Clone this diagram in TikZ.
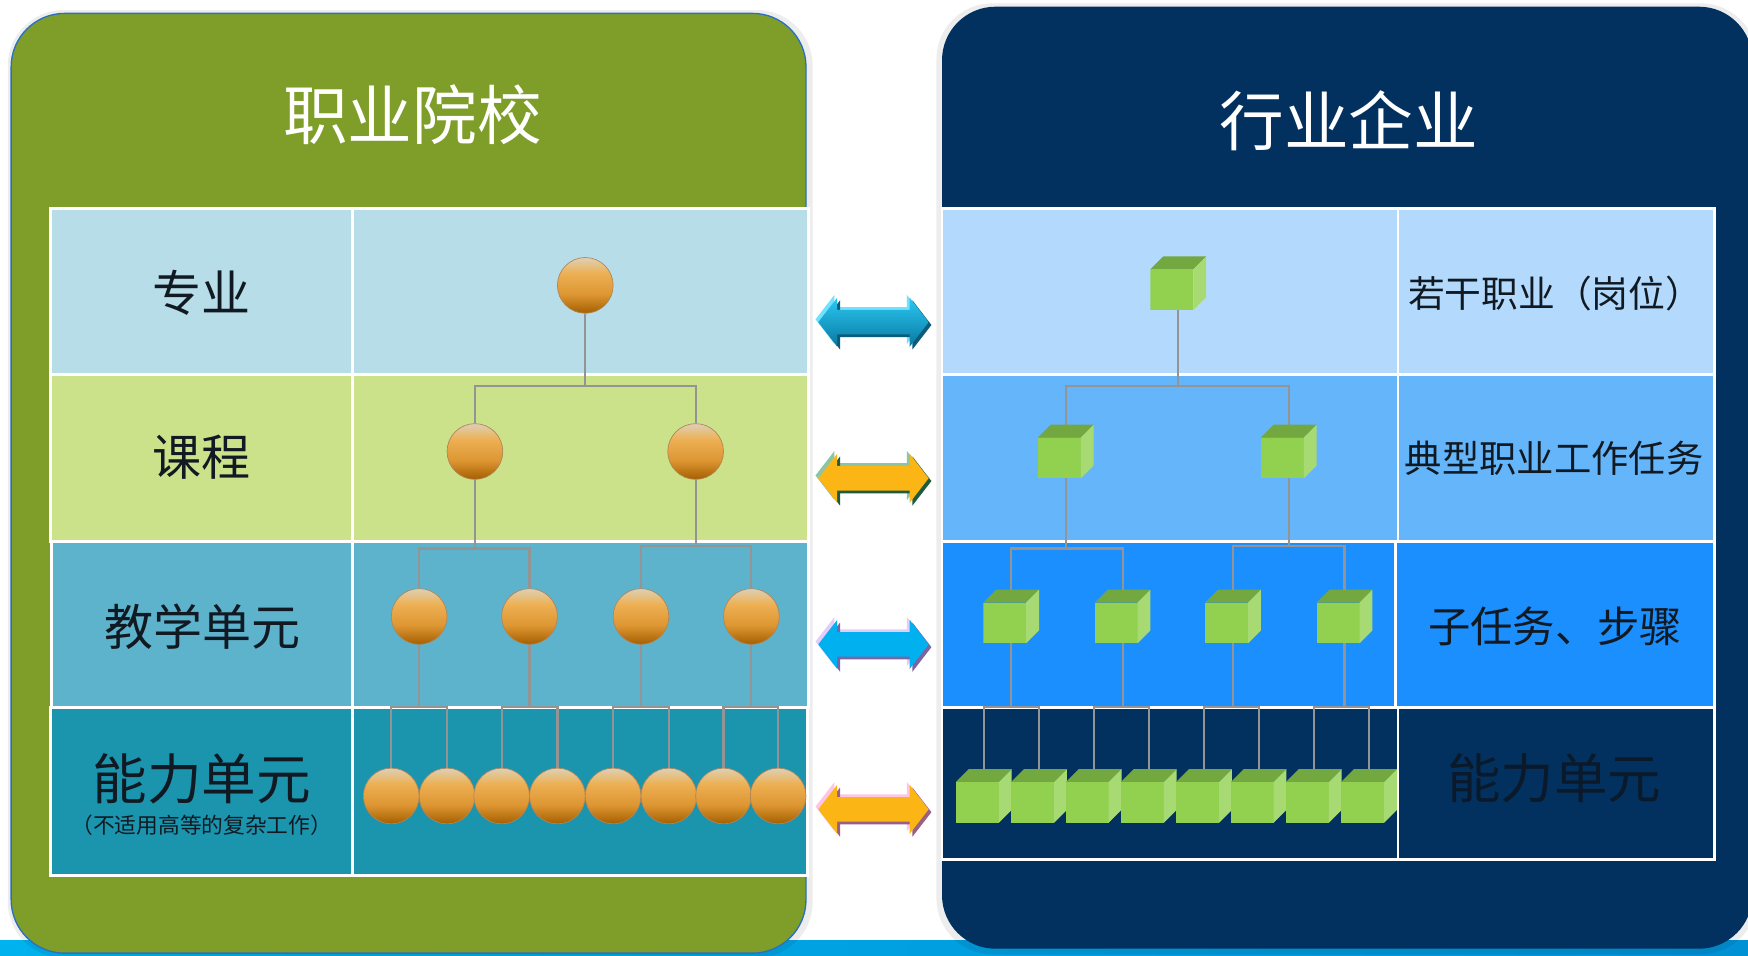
\documentclass[tikz,border=0pt]{standalone}
\usepackage{fontspec}
\newfontfamily\cjk{Noto Sans CJK SC}
\usetikzlibrary{calc}

% panels and table rows
\definecolor{panelgreen}{HTML}{7F9E29}
\definecolor{paneledge}{HTML}{2A6FC0}
\definecolor{panelnavy}{HTML}{03315F}
\definecolor{stripL}{HTML}{00B2EE}
\definecolor{stripR}{HTML}{0090D4}
\definecolor{lrowA}{HTML}{B7DEE8}
\definecolor{lrowB}{HTML}{CCE28A}
\definecolor{lrowC}{HTML}{5EB3CC}
\definecolor{lrowD}{HTML}{1B94AE}
\definecolor{rrowA}{HTML}{B3DAFC}
\definecolor{rrowB}{HTML}{65B5FA}
\definecolor{rrowC}{HTML}{1B8FFE}
\definecolor{rrowD}{HTML}{03315F}
% text
\definecolor{ink}{HTML}{111A22}
\definecolor{inkdim}{HTML}{0A1A2B}
% tree elements
\definecolor{wiregray}{HTML}{949494}
\definecolor{orbTop}{HTML}{DDD0B6}
\definecolor{orbLight}{HTML}{EDB054}
\definecolor{orbMid}{HTML}{DD9632}
\definecolor{orbBot}{HTML}{A65F00}
\definecolor{orbEdge}{HTML}{B08458}
\definecolor{cubeFront}{HTML}{92D050}
\definecolor{cubeTop}{HTML}{73A73F}
\definecolor{cubeSide}{HTML}{A8DA74}
% two-way arrows
\definecolor{arrAtop}{HTML}{2BC8F2}
\definecolor{arrAbot}{HTML}{0878A0}
\definecolor{arrAhi}{HTML}{70E2FF}
\definecolor{arrAsh}{HTML}{0B5C7C}
\definecolor{arrOrange}{HTML}{FBB514}
\definecolor{arrBhi}{HTML}{8CC5A6}
\definecolor{arrBsh}{HTML}{1F5C3D}
\definecolor{arrCfill}{HTML}{00B0EF}
\definecolor{arrChi}{HTML}{E3CCFA}
\definecolor{arrCsh}{HTML}{7B64A2}
\definecolor{arrDhi}{HTML}{FFC5E5}
\definecolor{arrDsh}{HTML}{9B5F82}

\pgfdeclareverticalshading{orbshade}{100bp}{color(0bp)=(orbBot); color(25bp)=(orbBot); color(42bp)=(orbMid); color(61bp)=(orbLight); color(75bp)=(orbTop); color(100bp)=(orbTop)}

\pgfdeclarelayer{ground}
\pgfdeclarelayer{wire}
\pgfsetlayers{ground,wire,main}

% one double-headed arrow body, shifted by (#2,#3)
\newcommand\arrowbody[3]{\path[#1,shift={(#2,#3)}] (-49.5,0) -- (-32.5,-22) -- (-32.5,-11) -- (32.5,-11) -- (32.5,-22) -- (49.5,0) -- (32.5,22) -- (32.5,11) -- (-32.5,11) -- (-32.5,22) -- cycle;}
% arrow at (#1,#2): highlight #3, shadow #4, face options #5
\newcommand\twowayarrow[5]{\begin{scope}[shift={(#1,#2)}]\arrowbody{fill=#3}{-2.5}{-2.5}\arrowbody{fill=#4}{2.5}{2.5}\arrowbody{#5}{0}{0}\end{scope}}

\begin{document}
\begin{tikzpicture}[x=1pt,y=-1pt,
  link/.style={draw=wiregray, line width=2},
  orb/.style={circle, minimum size=50, inner sep=0, shading=orbshade, draw=orbEdge, line width=0.6},
  cube/.style={rectangle, minimum width=50, minimum height=48, inner sep=0, outer sep=0,
    path picture={
      \fill[cubeTop] ($(path picture bounding box.north west)+(0,11.5)$) -- ++(11.5,-11.5) -- ++(38.5,0) -- ++(-11.5,11.5) -- cycle;
      \fill[cubeFront] ($(path picture bounding box.north west)+(0,11.5)$) rectangle ++(38.5,36.5);
      \fill[cubeSide] ($(path picture bounding box.north west)+(38.5,11.5)$) -- ++(11.5,-11.5) -- ++(0,36.5) -- ++(-11.5,11.5) -- cycle;
    }},
  cell/.style={draw=white, line width=2.5},
  lbl/.style={text=ink, inner sep=0, font=\cjk},
  title/.style={text=white, inner sep=0, font=\cjk\fontsize{58}{62}\selectfont},
]
\useasboundingbox (0,0) rectangle (1568,857);

\begin{pgfonlayer}{ground}
  \fill[white] (0,0) rectangle (1568,857);
  % strip along the bottom edge
  \shade[left color=stripL, right color=stripR] (0,844) rectangle (1568,857);
  % soft shadows of the two panels
  \fill[black, opacity=0.07, rounded corners=50] (7,9) rectangle (729,859);
  \fill[black, opacity=0.07, rounded corners=50] (840,3) rectangle (1576,856);
  % panels
  \draw[fill=panelgreen, draw=paneledge, line width=1.2, rounded corners=48] (10,12) rectangle (723,855);
  \fill[panelnavy, rounded corners=48] (845,6) rectangle (1572,851);

  % school table
  \path[cell, fill=lrowA] (45,187) rectangle (316,336);
  \path[cell, fill=lrowA] (316,187) rectangle (725,336);
  \path[cell, fill=lrowB] (45,336) rectangle (316,486);
  \path[cell, fill=lrowB] (316,336) rectangle (725,486);
  \path[cell, fill=lrowC] (46,486) rectangle (316,634.5);
  \path[cell, fill=lrowC] (316,486) rectangle (725,634.5);
  \path[cell, fill=lrowD] (45,634.5) rectangle (316,785);
  \path[cell, fill=lrowD] (316,634.5) rectangle (724,785);

  % enterprise table
  \path[cell, fill=rrowA] (845,187) rectangle (1254,336);
  \path[cell, fill=rrowA] (1254,187) rectangle (1538,336);
  \path[cell, fill=rrowB] (845,336) rectangle (1254,486);
  \path[cell, fill=rrowB] (1254,336) rectangle (1538,486);
  \path[cell, fill=rrowC] (845,486) rectangle (1252,634.5);
  \path[cell, fill=rrowC] (1252,486) rectangle (1538,634.5);
  \path[cell, fill=rrowD] (845,634.5) rectangle (1254,771);
  \path[cell, fill=rrowD] (1254,634.5) rectangle (1538,771);
\end{pgfonlayer}

% titles
\node[title] (tschool) at (370,103) {职业院校};
\node[title] (tfirm) at (1210,108) {行业企业};

% school row labels
\node[lbl, font=\cjk\fontsize{44}{48}\selectfont] (lmajor) at (181,263) {专业};
\node[lbl, font=\cjk\fontsize{44}{48}\selectfont] (lcourse) at (181,410) {课程};
\node[lbl, font=\cjk\fontsize{44}{48}\selectfont] (lunit) at (182,562) {教学单元};
\node[lbl, font=\cjk\fontsize{49}{52}\selectfont] (lskill) at (181,699) {能力单元};
\node[lbl, font=\cjk\fontsize{19.5}{21}\selectfont] (lnote) at (181,740) {（不适用高等的复杂工作）};

% enterprise row labels
\node[lbl, font=\cjk\fontsize{33}{36}\selectfont] (rjob) at (1395,263) {若干职业（岗位）};
\node[lbl, font=\cjk\fontsize{33.5}{36}\selectfont] (rtask) at (1394,411) {典型职业工作任务};
\node[lbl, font=\cjk\fontsize{38}{42}\selectfont] (rstep) at (1395,562) {子任务、步骤};
\node[lbl, text=inkdim, font=\cjk\fontsize{48}{52}\selectfont] (rskill) at (1394,698) {能力单元};

% school tree
\node[orb] (p) at (525,256) {};
\node[orb] (c1) at (426,405) {};
\node[orb] (c2) at (624,405) {};
\foreach \i/\x in {1/376,2/475,3/575,4/674}
  \node[orb] (u\i) at (\x,553) {};
\foreach \i/\x in {1/351,2/401,3/450,4/500,5/550,6/600,7/649,8/698}
  \node[orb] (a\i) at (\x,714) {};

% enterprise tree
\node[cube] (q) at (1057,254) {};
\node[cube] (k1) at (956,405) {};
\node[cube] (k2) at (1156,405) {};
\foreach \i/\x in {1/907,2/1007,3/1106,4/1206}
  \node[cube] (m\i) at (\x,553) {};
\foreach \i/\x in {1/882.5,2/932,3/981,4/1030.5,5/1080,6/1129,7/1178.5,8/1228}
  \node[cube] (b\i) at (\x,714) {};

% junction points
\coordinate (jp) at (525,346);
\coordinate (jc1) at (426,492);
\coordinate (jc2) at (624,490);
\coordinate (jq) at (1057,346);
\coordinate (jk1) at (956,492);
\coordinate (jk2) at (1156,490);
\foreach \i in {1,...,4} {
  \coordinate (ju\i) at ($(u\i)+(0,81.5)$);
  \coordinate (jm\i) at ($(m\i)+(0,81.5)$);
}

\begin{pgfonlayer}{wire}
  % school connectors
  \draw[link] (p) -- (jp);
  \draw[link] (c1) |- (jp) -| (c2);
  \draw[link] (c1) -- (jc1);
  \draw[link] (u1) |- (jc1) -| (u2);
  \draw[link] (c2) -- (jc2);
  \draw[link] (u3) |- (jc2) -| (u4);
  \draw[link] (u1) -- (ju1);  \draw[link] (a1) |- (ju1) -| (a2);
  \draw[link] (u2) -- (ju2);  \draw[link] (a3) |- (ju2) -| (a4);
  \draw[link] (u3) -- (ju3);  \draw[link] (a5) |- (ju3) -| (a6);
  \draw[link] (u4) -- (ju4);  \draw[link] (a7) |- (ju4) -| (a8);
  % enterprise connectors
  \draw[link] (q) -- (jq);
  \draw[link] (k1) |- (jq) -| (k2);
  \draw[link] (k1) -- (jk1);
  \draw[link] (m1) |- (jk1) -| (m2);
  \draw[link] (k2) -- (jk2);
  \draw[link] (m3) |- (jk2) -| (m4);
  \draw[link] (m1) -- (jm1);  \draw[link] (b1) |- (jm1) -| (b2);
  \draw[link] (m2) -- (jm2);  \draw[link] (b3) |- (jm2) -| (b4);
  \draw[link] (m3) -- (jm3);  \draw[link] (b5) |- (jm3) -| (b6);
  \draw[link] (m4) -- (jm4);  \draw[link] (b7) |- (jm4) -| (b8);
\end{pgfonlayer}

% two-way arrows between the panels
\twowayarrow{783.5}{289}{arrAhi}{arrAsh}{top color=arrAtop, bottom color=arrAbot}
\twowayarrow{783.5}{429}{arrBhi}{arrBsh}{fill=arrOrange}
\twowayarrow{783.5}{578}{arrChi}{arrCsh}{fill=arrCfill}
\twowayarrow{783.5}{726}{arrDhi}{arrDsh}{fill=arrOrange}
\end{tikzpicture}
\end{document}
